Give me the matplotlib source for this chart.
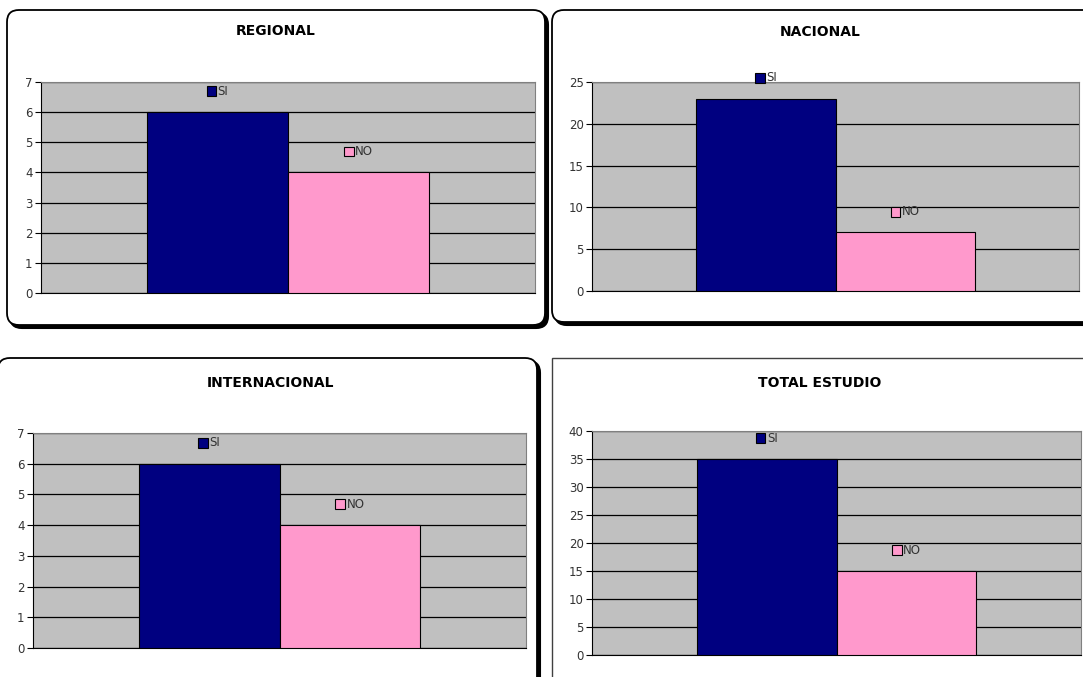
import matplotlib.pyplot as plt
from matplotlib.patches import FancyBboxPatch, Rectangle
from matplotlib.offsetbox import AnnotationBbox, DrawingArea, HPacker, TextArea

# datos de cada grafico
titulos = ['REGIONAL', 'NACIONAL', 'INTERNACIONAL', 'TOTAL ESTUDIO']
series = ['SI', 'NO']
valores_si = [6, 23, 6, 35]
valores_no = [4, 7, 4, 15]
ymax = [7, 25, 7, 40]
ypaso = [1, 5, 1, 5]

colores = ['#000080', '#FF99CC']

W, H = 1083, 677
fig = plt.figure(figsize=(W / 100, H / 100), dpi=100)
fig.patch.set_facecolor('white')


def px_rect(l, t, r, b):
    # pixel box -> figure fraction
    return [l / W, 1 - b / H, (r - l) / W, (b - t) / H]


def marco(l, t, r, b, redondo=True, sombra=True):
    x, y, w, h = px_rect(l, t, r, b)
    if redondo:
        estilo = 'round,pad=0,rounding_size=0.011'
    else:
        estilo = 'square,pad=0'
    if sombra:
        s = FancyBboxPatch((x + 3 / W, y - 3 / H), w, h, boxstyle=estilo,
                           transform=fig.transFigure, facecolor='black',
                           edgecolor='black', lw=1.5, mutation_aspect=W / H,
                           zorder=-3)
        fig.patches.append(s)
    p = FancyBboxPatch((x, y), w, h, boxstyle=estilo,
                       transform=fig.transFigure, facecolor='white',
                       edgecolor='black' if redondo else '#404040',
                       lw=1.3 if redondo else 1.0, mutation_aspect=W / H,
                       zorder=-2)
    fig.patches.append(p)


# marcos de los graficos (pixeles)
marco(7, 10, 545, 325)
marco(552, 10, 1110, 322)
marco(-2, 358, 537, 700)
marco(552, 358, 1110, 700, redondo=False, sombra=False)

ejes = [(41, 82, 535, 293), (592, 82, 1079, 291),
        (33, 433, 526, 648), (592, 431, 1081, 655)]
titulo_pos = [(276, 31), (820, 32), (270, 383), (820, 383)]

ancho = 0.2857
for i in range(4):
    ax = fig.add_axes(px_rect(*ejes[i]))
    ax.set_facecolor('#C0C0C0')
    vals = [valores_si[i], valores_no[i]]
    xs = [-ancho / 2, ancho / 2]
    ax.bar(xs, vals, width=ancho, color=colores, edgecolor='black',
           linewidth=0.8, zorder=3)
    ax.set_xlim(-0.5, 0.5)
    ax.set_ylim(0, ymax[i])
    ax.set_yticks(range(0, ymax[i] + 1, ypaso[i]))
    ax.set_xticks([])
    ax.grid(axis='y', color='black', linewidth=0.9, zorder=1)
    ax.set_axisbelow(True)
    ax.tick_params(axis='y', labelsize=8.5, labelcolor='#333333', length=4,
                   width=0.8, pad=2)
    ax.spines['left'].set_color('black')
    ax.spines['bottom'].set_color('black')
    ax.spines['top'].set_color('#808080')
    ax.spines['right'].set_color('#808080')

    # etiquetas con clave de leyenda
    for x, v, nombre, c in zip(xs, vals, series, colores):
        da = DrawingArea(7, 7, 0, 0)
        da.add_artist(Rectangle((0, 0), 7, 7, facecolor=c,
                                edgecolor='black', lw=0.8))
        txt = TextArea(nombre, textprops=dict(fontsize=8.5, color='#333333'))
        caja = HPacker(children=[da, txt], align='center', pad=0, sep=1)
        ab = AnnotationBbox(caja, (x, v), xybox=(0, 15),
                            boxcoords='offset points', frameon=False,
                            box_alignment=(0.5, 0.5))
        ax.add_artist(ab)

    tx, ty = titulo_pos[i]
    fig.text(tx / W, 1 - ty / H, titulos[i], ha='center', va='center',
             fontsize=10, fontweight='bold', color='black')

plt.savefig('out.png', dpi=100)
